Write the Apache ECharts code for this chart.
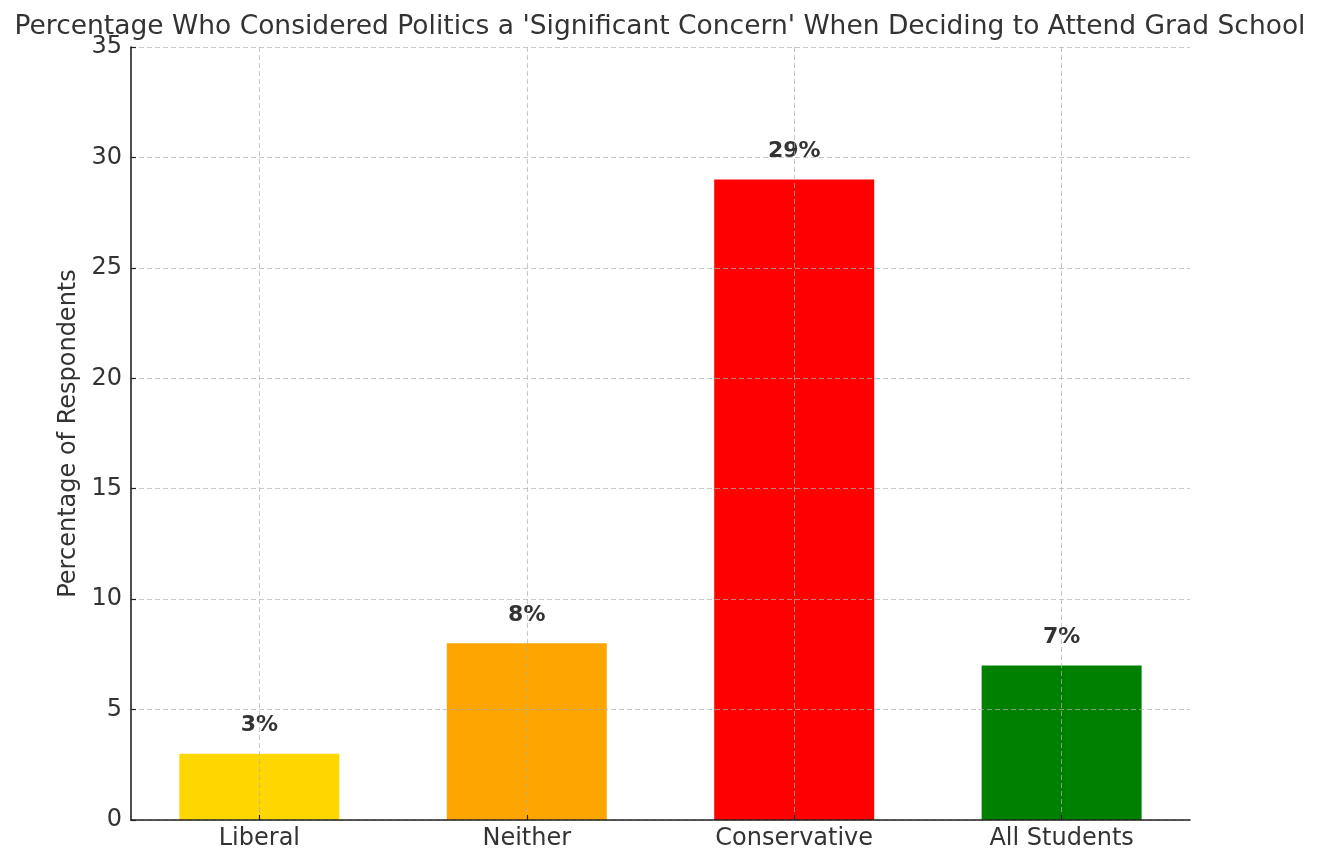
<!DOCTYPE html>
<html>
<head>
<meta charset="utf-8">
<script src="https://cdn.jsdelivr.net/npm/echarts@6/dist/echarts.min.js"></script>
<style>
html,body{margin:0;padding:0;background:#fff;}
#chart{width:1320px;height:866px;}
</style>
</head>
<body>
<div id="chart"></div>
<script>
const categories = ['Liberal', 'Neither', 'Conservative', 'All Students'];
const percentValues = [3, 8, 29, 7];
const barColors = ['#FFD700', '#FFA500', '#FF0000', '#008000'];
const yTicks = [0, 5, 10, 15, 20, 25, 30, 35];
const positions = categories.map((c, i) => i);

const FONT = '"DejaVu Sans", sans-serif';
const GRID_LINE = { color: 'rgba(176,176,176,0.7)', type: [5, 3], width: 1 };
const chart = echarts.init(document.getElementById('chart'));
chart.setOption({
  animation: false,
  backgroundColor: '#fff',
  title: {
    text: "Percentage Who Considered Politics a 'Significant Concern' When Deciding to Attend Grad School",
    left: 'center',
    top: 9,
    textStyle: { fontFamily: FONT, fontSize: 26.5, fontWeight: 'normal', color: '#333' }
  },
  grid: { left: 131, right: 130, top: 47, bottom: 46, containLabel: false },
  xAxis: {
    type: 'value',
    min: -0.48,
    max: 3.48,
    z: 3,
    axisLine: { show: true, onZero: false, lineStyle: { color: '#222', width: 1.6 } },
    axisTick: { show: true, inside: true, length: 5, customValues: positions, lineStyle: { color: '#222', width: 1.2 } },
    axisLabel: {
      customValues: positions,
      formatter: v => categories[Math.round(v)] || '',
      fontFamily: FONT, fontSize: 24, color: '#333', margin: 7
    },
    splitLine: { show: true, lineStyle: GRID_LINE }
  },
  yAxis: {
    type: 'value',
    min: yTicks[0],
    max: yTicks[yTicks.length - 1],
    interval: 5,
    z: 3,
    name: 'Percentage of Respondents',
    nameLocation: 'middle',
    nameGap: 49,
    nameTextStyle: { fontFamily: FONT, fontSize: 24, color: '#333' },
    axisLine: { show: true, onZero: false, lineStyle: { color: '#222', width: 1.6 } },
    axisTick: { show: true, inside: true, length: 5, lineStyle: { color: '#222', width: 1.2 } },
    axisLabel: { fontFamily: FONT, fontSize: 24, color: '#333', margin: 9, padding: [3, 0, 0, 0] },
    splitLine: { show: true, lineStyle: GRID_LINE }
  },
  series: [{
    type: 'bar',
    z: 1,
    barWidth: 160,
    data: percentValues.map((v, i) => ({ value: [positions[i], v], itemStyle: { color: barColors[i] } })),
    label: {
      show: true,
      position: 'top',
      distance: 17,
      formatter: p => p.value[1] + '%',
      fontFamily: FONT, fontSize: 22, fontWeight: 'bold', color: '#333'
    }
  }]
});
</script>
</body>
</html>
